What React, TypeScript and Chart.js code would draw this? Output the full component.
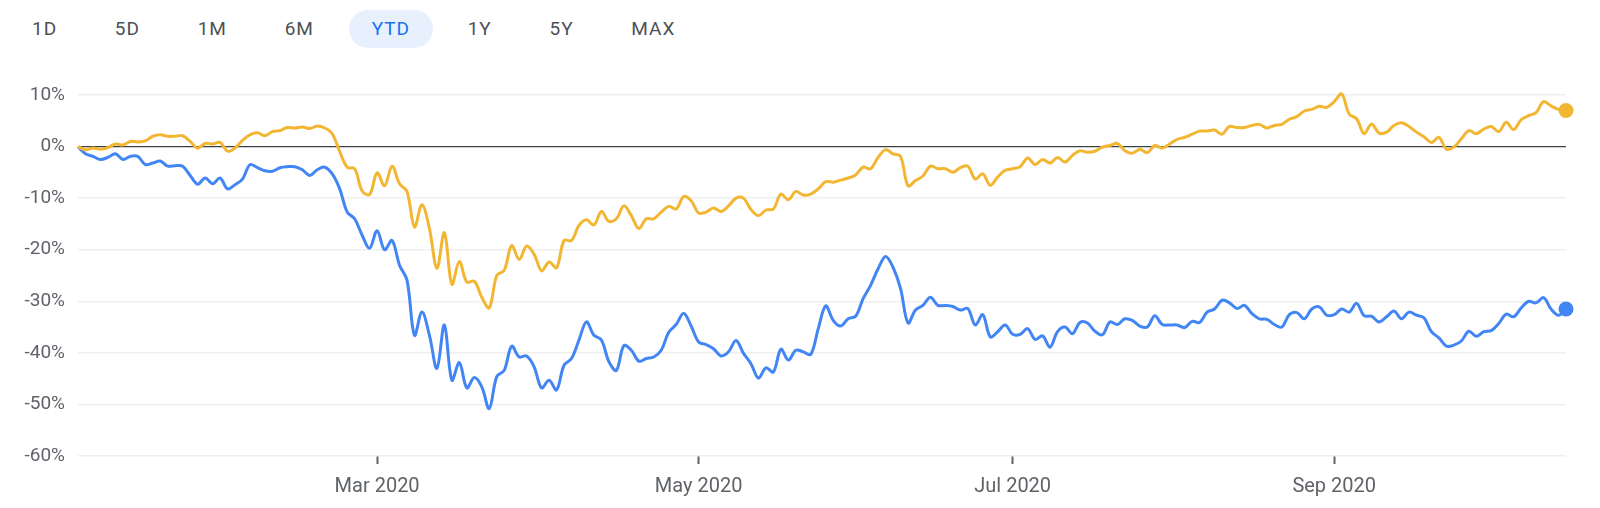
import React, { useEffect, useRef } from 'react';
import { Chart, registerables } from 'chart.js';

Chart.register(...registerables);

// Range selector buttons
const rangeButtons = ['1D', '5D', '1M', '6M', 'YTD', '1Y', '5Y', 'MAX'];
const selectedRange = 'YTD';

// X axis: trading-day index (0 = Jan 2 2020 ... 199 = Oct 15 2020)
const monthTickDays = [40, 83, 125, 168];
const monthTickLabels = ['Mar 2020', 'May 2020', 'Jul 2020', 'Sep 2020'];

// Y axis range (percent change)
const yMin = -60;
const yMax = 10;
const yStep = 10;

// Yellow series: % change since first day (daily)
const yellowSeries = [
  0.0, -0.6, -0.3, -0.5, -0.2, 0.5, 0.3, 1.0, 0.9, 1.1,
  2.0, 2.3, 2.0, 2.0, 2.1, 1.0, -0.3, 0.6, 0.5, 0.8,
  -0.9, -0.3, 1.2, 2.3, 2.7, 2.1, 2.9, 3.1, 3.7, 3.6,
  3.8, 3.5, 4.0, 3.6, 2.5, -1.0, -4.0, -4.3, -8.6, -9.3,
  -5.1, -7.6, -3.8, -7.2, -8.7, -15.6, -11.3, -15.9, -23.6, -16.7,
  -26.7, -22.3, -26.3, -26.1, -29.2, -31.3, -25.0, -24.0, -19.2, -21.9,
  -19.3, -20.9, -24.1, -22.4, -23.5, -18.2, -18.2, -15.3, -14.2, -15.2,
  -12.6, -14.5, -14.0, -11.5, -13.4, -15.9, -14.0, -14.0, -12.7, -11.6,
  -12.1, -9.7, -10.5, -12.9, -12.7, -11.9, -12.6, -11.5, -10.0, -10.0,
  -12.2, -13.4, -12.3, -12.1, -9.2, -10.3, -8.7, -9.4, -9.2, -8.2,
  -6.8, -6.9, -6.5, -6.1, -5.5, -4.0, -4.3, -2.1, -0.6, -1.4,
  -1.9, -7.6, -6.6, -5.7, -3.8, -4.3, -4.3, -5.0, -4.1, -3.8,
  -6.3, -5.3, -7.5, -5.9, -4.6, -4.3, -3.9, -2.2, -3.5, -2.5,
  -3.2, -2.1, -3.0, -1.7, -0.8, -1.1, -0.9, -0.1, 0.2, 0.6,
  -0.8, -1.3, -0.5, -1.2, 0.2, -0.3, 0.5, 1.4, 1.8, 2.4,
  3.0, 3.0, 3.2, 2.4, 3.9, 3.7, 3.7, 4.1, 4.3, 3.6,
  4.1, 4.3, 5.3, 5.8, 6.9, 7.2, 7.8, 7.6, 8.7, 10.2,
  6.3, 5.4, 2.5, 4.4, 2.6, 2.8, 4.1, 4.6, 3.9, 2.8,
  1.9, 0.8, 1.8, -0.5, -0.1, 1.5, 3.1, 2.5, 3.4, 3.9,
  2.9, 4.7, 3.3, 5.2, 6.0, 6.6, 8.7, 7.9, 7.2, 7.0,
];

// Blue series: % change since first day (daily)
const blueSeries = [
  0.0, -1.4, -1.9, -2.5, -2.1, -1.4, -2.5, -1.9, -1.9, -3.5,
  -3.2, -2.8, -3.8, -3.7, -3.8, -5.6, -7.3, -6.1, -7.2, -6.1,
  -8.2, -7.4, -6.3, -3.5, -4.1, -4.7, -4.8, -4.1, -3.9, -3.9,
  -4.5, -5.6, -4.5, -4.0, -5.3, -8.2, -12.7, -14.0, -17.2, -19.7,
  -16.3, -20.0, -18.2, -23.0, -25.9, -36.6, -32.1, -36.6, -43.0, -34.6,
  -45.3, -41.9, -46.8, -44.8, -46.6, -50.8, -44.6, -43.4, -38.7, -40.8,
  -40.6, -42.7, -46.8, -45.3, -47.2, -42.4, -41.1, -37.5, -34.0, -36.6,
  -37.5, -41.7, -43.4, -38.6, -39.5, -41.6, -41.1, -40.8, -39.5, -36.0,
  -34.5, -32.3, -34.8, -37.9, -38.4, -39.2, -40.6, -39.8, -37.6, -40.1,
  -42.1, -44.9, -42.9, -43.7, -39.3, -41.4, -39.5, -39.8, -40.3, -35.3,
  -30.9, -33.7, -34.8, -33.4, -32.9, -29.5, -26.9, -23.7, -21.3, -23.4,
  -27.5, -34.2, -31.7, -30.8, -29.2, -30.8, -30.8, -31.0, -31.7, -31.4,
  -34.6, -32.6, -36.9, -35.9, -34.6, -36.4, -36.4, -35.3, -37.4, -36.7,
  -38.9, -35.9, -35.0, -36.3, -34.1, -34.2, -35.8, -36.5, -34.0, -34.5,
  -33.4, -33.7, -34.8, -35.0, -32.8, -34.5, -34.6, -34.6, -35.1, -33.9,
  -34.1, -32.1, -31.5, -29.8, -30.3, -31.4, -30.8, -32.4, -33.4, -33.5,
  -34.5, -35.0, -32.6, -32.2, -33.4, -31.5, -31.1, -32.7, -32.6, -31.5,
  -32.1, -30.4, -32.8, -32.9, -34.0, -33.0, -31.9, -33.4, -32.1, -32.7,
  -33.2, -35.9, -37.1, -38.7, -38.5, -37.7, -35.8, -36.8, -35.9, -35.7,
  -34.3, -32.5, -33.0, -31.3, -30.0, -30.3, -29.3, -31.5, -32.7, -31.5,
];

const YELLOW = '#F2B633';
const BLUE = '#4285F4';
const TEXT_GREY = '#5f6368';

function RangeBar() {
  return (
    <div
      style={{
        position: 'absolute',
        left: 9,
        top: 10,
        height: 38,
        display: 'flex',
        gap: 11.7,
        fontFamily: 'Roboto, sans-serif',
      }}
    >
      {rangeButtons.map((r) => {
        const sel = r === selectedRange;
        return (
          <div
            key={r}
            style={{
              height: 38,
              padding: '0 23px',
              borderRadius: 19,
              background: sel ? '#e8f0fe' : 'transparent',
              color: sel ? '#1a73e8' : '#4d5156',
              fontSize: 19,
              fontWeight: 400,
              letterSpacing: 1,
              lineHeight: '38px',
              whiteSpace: 'nowrap',
            }}
          >
            {r}
          </div>
        );
      })}
    </div>
  );
}

export default function App() {
  const canvasRef = useRef<HTMLCanvasElement | null>(null);

  useEffect(() => {
    if (!canvasRef.current) return;
    const lastIdx = yellowSeries.length - 1;
    const mk = (vals: number[], color: string) => ({
      data: vals.map((v, i) => ({ x: i, y: v })),
      borderColor: color,
      backgroundColor: color,
      borderWidth: 3,
      pointRadius: (ctx: any) => (ctx.dataIndex === lastIdx ? 7.5 : 0),
      pointHoverRadius: 0,
      pointBorderWidth: 0,
      pointBackgroundColor: color,
      tension: 0.35,
      fill: false,
      clip: false as any,
    });
    const chart = new Chart(canvasRef.current, {
      type: 'line',
      data: {
        datasets: [mk(yellowSeries, YELLOW), mk(blueSeries, BLUE)],
      },
      options: {
        animation: false,
        responsive: false,
        maintainAspectRatio: false,
        events: [],
        layout: { padding: { top: 95, right: 34, bottom: -2, left: 0 } },
        plugins: { legend: { display: false }, tooltip: { enabled: false } },
        scales: {
          x: {
            type: 'linear',
            min: 0,
            max: yellowSeries.length - 1,
            afterBuildTicks: (scale: any) => {
              scale.ticks = monthTickDays.map((d) => ({ value: d }));
            },
            ticks: {
              autoSkip: false,
              maxRotation: 0,
              padding: 11,
              color: TEXT_GREY,
              font: { family: 'Roboto', size: 20 },
              callback: (v: any) => {
                const idx = monthTickDays.indexOf(Number(v));
                return idx >= 0 ? monthTickLabels[idx] : '';
              },
            },
            grid: {
              drawOnChartArea: false,
              drawTicks: true,
              tickLength: 8,
              tickColor: '#5f6368',
              tickWidth: 2,
            },
            border: { display: false },
          },
          y: {
            type: 'linear',
            min: yMin,
            max: yMax,
            afterFit: (scale: any) => {
              scale.width = 78;
            },
            ticks: {
              stepSize: yStep,
              padding: 13,
              color: TEXT_GREY,
              font: { family: 'Roboto', size: 19 },
              callback: (v: any) => `${v}%`,
            },
            grid: {
              drawTicks: false,
              color: (ctx: any) => (ctx.tick && ctx.tick.value === 0 ? '#3c4043' : '#efefef'),
              lineWidth: (ctx: any) => (ctx.tick && ctx.tick.value === 0 ? 1.2 : 1.5),
            },
            border: { display: false },
          },
        },
      },
    });
    return () => chart.destroy();
  }, []);

  return (
    <div style={{ position: 'absolute', left: 0, top: 0, width: 1600, height: 508, background: '#fff' }}>
      <RangeBar />
      <canvas
        ref={canvasRef}
        width={1600}
        height={508}
        style={{ position: 'absolute', left: 0, top: 0, width: 1600, height: 508 }}
      />
    </div>
  );
}
